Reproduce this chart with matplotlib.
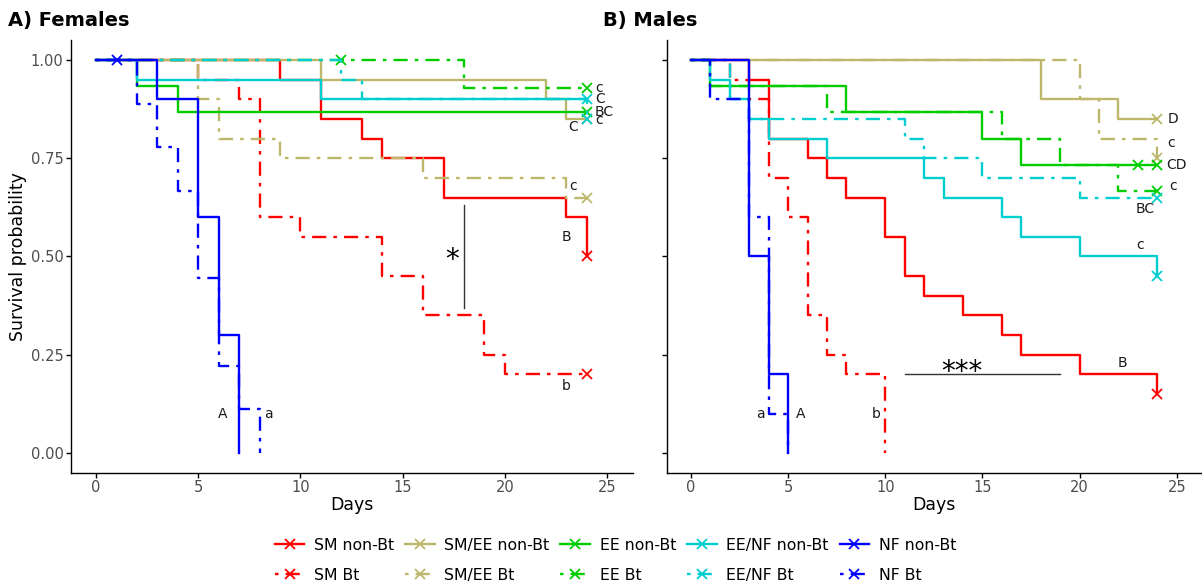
import matplotlib.pyplot as plt
from matplotlib.lines import Line2D

# Kaplan-Meier curves: event days and survival after each drop
groups = ['SM non-Bt', 'SM Bt', 'SM/EE non-Bt', 'SM/EE Bt', 'EE non-Bt', 'EE Bt',
          'EE/NF non-Bt', 'EE/NF Bt', 'NF non-Bt', 'NF Bt']
colors = ['#FF0000', '#FF0000', '#BDB76B', '#BDB76B', '#00CD00', '#00CD00',
          '#00CED1', '#00CED1', '#0000FF', '#0000FF']

# Females
f_times = [
    [0, 9, 11, 13, 14, 17, 23, 24],
    [0, 5, 7, 8, 10, 14, 16, 19, 20],
    [0, 11, 22, 23],
    [0, 5, 6, 9, 16, 23],
    [0, 2, 4],
    [0, 18],
    [0, 2, 11],
    [0, 12, 13, 24],
    [0, 3, 5, 6, 7],
    [0, 2, 3, 4, 5, 6, 7, 8],
]
f_surv = [
    [1, 0.95, 0.85, 0.80, 0.75, 0.65, 0.60, 0.50],
    [1, 0.95, 0.90, 0.60, 0.55, 0.45, 0.35, 0.25, 0.20],
    [1, 0.95, 0.90, 0.85],
    [1, 0.90, 0.80, 0.75, 0.70, 0.65],
    [1, 0.933, 0.867],
    [1, 0.929],
    [1, 0.95, 0.90],
    [1, 0.95, 0.90, 0.85],
    [1, 0.90, 0.60, 0.30, 0.0],
    [1, 0.889, 0.778, 0.667, 0.444, 0.222, 0.111, 0.0],
]
f_censor = [[24], [24], [24], [24], [24], [12, 24], [24], [24], [1], []]

# Males
m_times = [
    [0, 3, 4, 6, 7, 8, 10, 11, 12, 14, 16, 17, 20, 24],
    [0, 2, 3, 4, 5, 6, 7, 8, 10],
    [0, 18, 22],
    [0, 20, 21, 24],
    [0, 1, 8, 15, 17],
    [0, 1, 7, 16, 19, 22],
    [0, 1, 2, 3, 4, 7, 12, 13, 16, 17, 20, 24],
    [0, 2, 3, 11, 12, 15, 20],
    [0, 3, 4, 5],
    [0, 1, 3, 4, 5],
]
m_surv = [
    [1, 0.95, 0.80, 0.75, 0.70, 0.65, 0.55, 0.45, 0.40, 0.35, 0.30, 0.25, 0.20, 0.15],
    [1, 0.95, 0.90, 0.70, 0.60, 0.35, 0.25, 0.20, 0.0],
    [1, 0.90, 0.85],
    [1, 0.90, 0.80, 0.75],
    [1, 0.933, 0.867, 0.80, 0.733],
    [1, 0.933, 0.867, 0.80, 0.733, 0.667],
    [1, 0.95, 0.90, 0.85, 0.80, 0.75, 0.70, 0.65, 0.60, 0.55, 0.50, 0.45],
    [1, 0.90, 0.85, 0.80, 0.75, 0.70, 0.65],
    [1, 0.50, 0.20, 0.0],
    [1, 0.90, 0.60, 0.10, 0.0],
]
m_censor = [[24], [], [24], [24], [23, 24], [24], [24], [24], [], []]

# significance letters (text, day, survival)
f_letters = [('c', 24.6, 0.93), ('C', 24.65, 0.90), ('BC', 24.85, 0.868), ('c', 24.6, 0.847),
             ('C', 23.35, 0.83), ('c', 23.35, 0.68), ('B', 23.0, 0.55), ('b', 23.0, 0.17),
             ('A', 6.2, 0.10), ('a', 8.45, 0.10)]
m_letters = [('D', 24.8, 0.85), ('c', 24.7, 0.79), ('CD', 25.0, 0.733), ('c', 24.8, 0.68),
             ('BC', 23.4, 0.62), ('c', 23.1, 0.53), ('B', 22.2, 0.23),
             ('a', 3.55, 0.10), ('A', 5.65, 0.10), ('b', 9.55, 0.10)]

LW = 1.7
DASH = (0, (1.5, 3, 6, 3))
styles = ['-', DASH] * 5

fig = plt.figure(figsize=(12.02, 5.84), dpi=100)
axA = fig.add_axes([0.0587, 0.1907, 0.4676, 0.7402])
axB = fig.add_axes([0.5547, 0.1907, 0.4445, 0.7402])


def survival_panel(ax, times, surv, censor):
    for t, s, c, col, ls in zip(times, surv, censor, colors, styles):
        tt = list(t)
        ss = list(s)
        if ss[-1] > 0:
            tt.append(24)
            ss.append(ss[-1])
        ax.step(tt, ss, where='post', color=col, lw=LW, linestyle=ls)
        for ct in c:
            # survival at censor time
            sv = [v for tv, v in zip(t, s) if tv <= ct][-1]
            ax.plot(ct, sv, marker='x', ms=7.5, mew=1.3, color=col, linestyle='none')


def style_axes(ax, ylabels=True):
    ax.set_xlim(-1.25, 26.25)
    ax.set_ylim(-0.05, 1.05)
    ax.set_xticks([0, 5, 10, 15, 20, 25])
    ax.set_yticks([0, 0.25, 0.5, 0.75, 1.0])
    if ylabels:
        ax.set_yticklabels(['0.00', '0.25', '0.50', '0.75', '1.00'])
    else:
        ax.set_yticklabels([])
    for side in ['top', 'right']:
        ax.spines[side].set_visible(False)
    for side in ['left', 'bottom']:
        ax.spines[side].set_linewidth(1.0)
    ax.tick_params(length=3.5, width=1.0, pad=1.5, labelsize=10.5,
                   labelcolor='#4D4D4D', direction='out')
    ax.set_xlabel('Days', fontsize=12.5, labelpad=1)


survival_panel(axA, f_times, f_surv, f_censor)
survival_panel(axB, m_times, m_surv, m_censor)
style_axes(axA)
style_axes(axB, ylabels=False)
axA.set_ylabel('Survival probability', fontsize=12.5, labelpad=3)

for txt, x, y in f_letters:
    axA.text(x, y, txt, fontsize=10, ha='center', va='center', color='#1A1A1A')
for txt, x, y in m_letters:
    axB.text(x, y, txt, fontsize=10, ha='center', va='center', color='#1A1A1A')

# significance marks
axA.plot([18, 18], [0.37, 0.63], color='#333333', lw=1.0)
axA.text(17.4, 0.49, '*', fontsize=20, ha='center', va='center')
axB.plot([11, 19], [0.20, 0.20], color='#333333', lw=1.0)
axB.text(13.95, 0.205, '***', fontsize=20, ha='center', va='center')

fig.text(0.007, 0.965, 'A) Females', fontsize=14, fontweight='bold', va='center')
fig.text(0.502, 0.965, 'B) Males', fontsize=14, fontweight='bold', va='center')

handles = [Line2D([], [], color=c, lw=LW, linestyle=ls, marker='x', ms=7.5, mew=1.3)
           for c, ls in zip(colors, styles)]
fig.legend(handles, groups, loc='lower center', bbox_to_anchor=(0.512, -0.022), ncol=5,
           frameon=False, fontsize=11.3, handlelength=1.9, handletextpad=0.6,
           columnspacing=0.7, labelspacing=0.95)

fig.savefig('out.png', dpi=100)
